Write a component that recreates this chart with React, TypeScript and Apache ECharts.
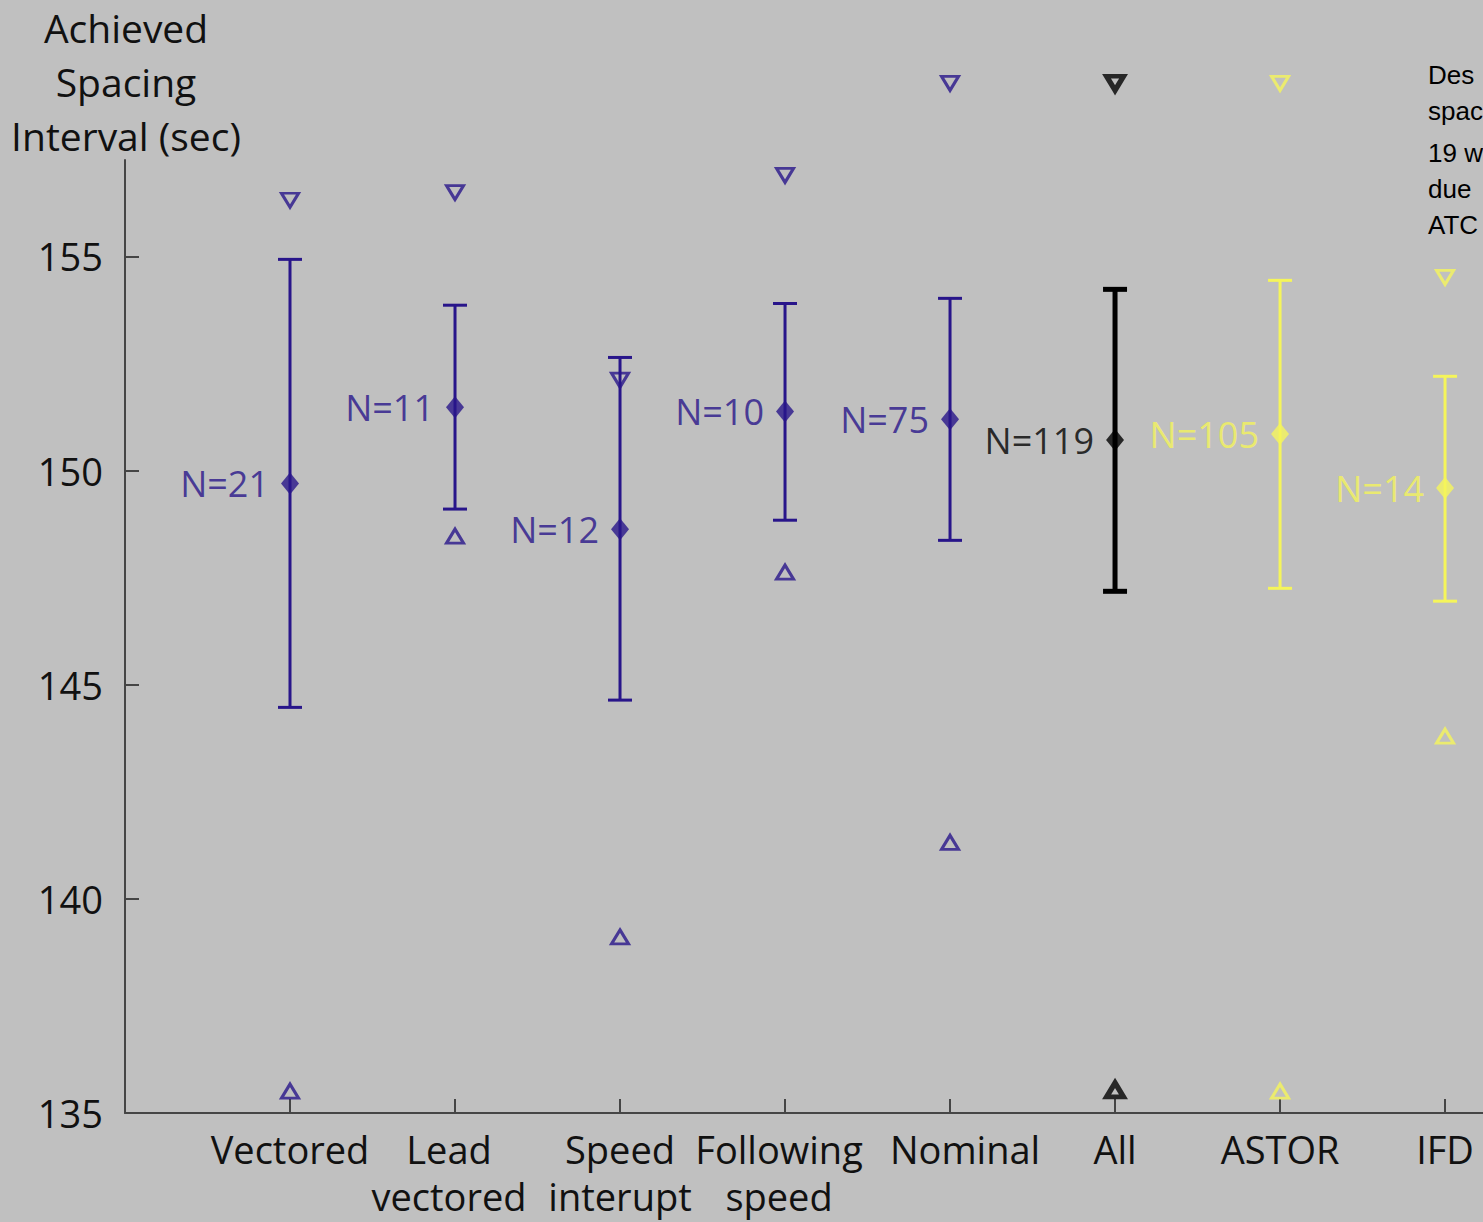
import React, { useEffect, useRef } from "react";
import * as echarts from "echarts";

const categories = [
  "Vectored",
  "Lead\nvectored",
  "Speed\ninterupt",
  "Following\nspeed",
  "Nominal",
  "All",
  "ASTOR",
  "IFD",
];
const groups = ["sim", "sim", "sim", "sim", "sim", "all", "field", "field"];
const means = [149.7, 151.48, 148.63, 151.38, 151.2, 150.71, 150.85, 149.59];
const upper = [154.93, 153.86, 152.64, 153.9, 154.02, 154.23, 154.44, 152.2];
const lower = [144.47, 149.1, 144.64, 148.84, 148.37, 147.18, 147.25, 146.95];
const maxs = [156.31, 156.49, 152.11, 156.89, 159.04, 159.04, 159.04, 154.51];
const mins = [135.51, 148.47, 139.11, 147.63, 141.32, 135.54, 135.51, 143.8];
const counts = [21, 11, 12, 10, 75, 119, 105, 14];
const yTicks = [135, 140, 145, 150, 155];
const yAxisName = "Achieved\nSpacing\nInterval (sec)";
const note1 = "Des\nspac";
const note2 = "19 w\ndue\nATC";

const palette: Record<string, string> = {
  sim: "#28158a",
  all: "#000000",
  field: "#f5f55a",
};
const colorOf = (i: number) => palette[groups[i]];
const FONT = "'Open Sans', 'Noto Sans', sans-serif";
const AXIS = "#454545";
// small horizontal nudges of some category labels, as in the reference
const labelStyleKey = ["c", "l", "c", "l", "r", "c", "c", "c"];

export default function App() {
  const ref = useRef<HTMLDivElement>(null);
  useEffect(() => {
    if (!ref.current) return;
    const chart = echarts.init(ref.current, null, { renderer: "svg" });

    const openStyle = (i: number) => ({
      color: "rgba(0,0,0,0)",
      borderColor: colorOf(i),
      borderWidth: groups[i] === "all" ? 5 : 3,
    });
    const meanData = means.map((m, i) => ({
      value: [i + 1, m],
      itemStyle: { color: colorOf(i) },
      label: { color: colorOf(i) },
    }));
    const maxData = maxs.map((m, i) => ({ value: [i + 1, m], itemStyle: openStyle(i) }));
    const minData = mins.map((m, i) => ({ value: [i + 1, m], itemStyle: openStyle(i) }));

    const richBase = { fontFamily: FONT, fontSize: 38, lineHeight: 47, color: "#111" };

    chart.setOption({
      animation: false,
      backgroundColor: "#c0c0c0",
      grid: { left: 125, top: 160, bottom: 109, right: 0 },
      xAxis: {
        type: "value",
        min: 0,
        max: 8.23,
        interval: 1,
        splitLine: { show: false },
        axisLine: { show: true, lineStyle: { color: AXIS, width: 2 } },
        axisTick: {
          show: true,
          inside: true,
          length: 14,
          lineStyle: { color: AXIS, width: 2 },
        },
        axisLabel: {
          showMaxLabel: false,
          formatter: (v: number) => {
            const k = Math.round(v);
            if (!(k >= 1 && k <= categories.length && Math.abs(v - k) < 1e-6)) return "";
            const key = labelStyleKey[k - 1];
            return categories[k - 1]
              .split("\n")
              .map((s) => `{${key}|${s}}`)
              .join("\n");
          },
          color: "#111",
          fontFamily: FONT,
          fontSize: 38,
          lineHeight: 47,
          margin: 12,
          verticalAlign: "top",
          rich: {
            c: { ...richBase },
            l: { ...richBase, padding: [0, 12, 0, 0] },
            r: { ...richBase, padding: [0, 0, 0, 30] },
          },
        },
      },
      yAxis: {
        type: "value",
        min: 135,
        max: 157.25,
        splitLine: { show: false },
        axisLine: { show: true, lineStyle: { color: AXIS, width: 2 } },
        axisTick: {
          show: true,
          inside: true,
          length: 14,
          customValues: yTicks,
          lineStyle: { color: AXIS, width: 2 },
        },
        axisLabel: {
          customValues: yTicks,
          color: "#111",
          fontFamily: FONT,
          fontSize: 38,
          margin: 22,
        },
      },
      graphic: [
        {
          type: "text",
          x: 126,
          y: 0,
          style: {
            text: yAxisName,
            fill: "#111",
            font: `39px ${FONT}`,
            align: "center",
            lineHeight: 54,
          },
        },
        {
          type: "text",
          x: 1428,
          y: 57,
          style: {
            text: note1,
            fill: "#000",
            font: "26px 'Liberation Sans', Arial, sans-serif",
            lineHeight: 36,
          },
        },
        {
          type: "text",
          x: 1428,
          y: 135,
          style: {
            text: note2,
            fill: "#000",
            font: "26px 'Liberation Sans', Arial, sans-serif",
            lineHeight: 36,
          },
        },
      ],
      series: [
        {
          type: "custom",
          data: categories.map((_, i) => [i + 1, lower[i], upper[i]]),
          renderItem: (params: any, api: any) => {
            const i = params.dataIndex;
            const x = api.value(0);
            const pHi = api.coord([x, api.value(2)]);
            const pLo = api.coord([x, api.value(1)]);
            const c = colorOf(i);
            const w = groups[i] === "all" ? 5 : 3;
            const half = 12;
            const style = { stroke: c, lineWidth: w };
            return {
              type: "group",
              children: [
                { type: "line", shape: { x1: pHi[0], y1: pHi[1], x2: pLo[0], y2: pLo[1] }, style },
                { type: "line", shape: { x1: pHi[0] - half, y1: pHi[1], x2: pHi[0] + half, y2: pHi[1] }, style },
                { type: "line", shape: { x1: pLo[0] - half, y1: pLo[1], x2: pLo[0] + half, y2: pLo[1] }, style },
              ],
            };
          },
          z: 2,
        },
        {
          type: "scatter",
          data: meanData,
          symbol: "diamond",
          symbolSize: [18, 22],
          clip: false,
          z: 3,
          label: {
            show: true,
            position: "left",
            distance: 12,
            fontFamily: FONT,
            fontSize: 36,
            formatter: (p: any) => "N=" + counts[p.dataIndex],
          },
        },
        {
          type: "scatter",
          data: maxData,
          symbol: "triangle",
          symbolRotate: 180,
          symbolSize: [17, 14],
          clip: false,
          z: 3,
        },
        {
          type: "scatter",
          data: minData,
          symbol: "triangle",
          symbolSize: [17, 14],
          clip: false,
          z: 3,
        },
      ],
    });
    return () => chart.dispose();
  }, []);
  return (
    <div
      ref={ref}
      style={{ position: "fixed", left: 0, top: 0, width: 1483, height: 1222 }}
    />
  );
}
